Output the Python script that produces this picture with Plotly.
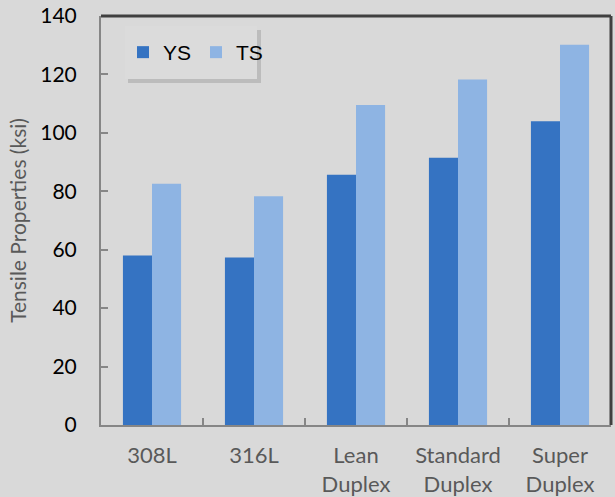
import plotly.graph_objects as go

categories = ["308L", "316L", "Lean<br>Duplex", "Standard<br>Duplex", "Super<br>Duplex"]
ys_values = [58.0, 57.3, 85.7, 91.5, 104.0]
ts_values = [82.6, 78.3, 109.5, 118.3, 130.2]
y_ticks = [0, 20, 40, 60, 80, 100, 120, 140]

BG = "#D9D9D9"
PL, PR, PT, PB = 101, 611, 16, 425  # plot area pixel bounds
W, H = 615, 497


def px_x(px):
    return (px - PL) / (PR - PL)


def px_y(py):
    return (PB - py) / (PB - PT)


fig = go.Figure()
fig.add_trace(go.Bar(name="YS", x=categories, y=ys_values,
                     marker=dict(color="#3573C2", line=dict(width=0))))
fig.add_trace(go.Bar(name="TS", x=categories, y=ts_values,
                     marker=dict(color="#8EB4E3", line=dict(width=0))))

fig.update_layout(
    width=W, height=H,
    margin=dict(l=PL, r=W - PR, t=PT, b=H - PB, autoexpand=False),
    paper_bgcolor=BG, plot_bgcolor=BG,
    barmode="group", bargap=0.43, bargroupgap=0,
    font=dict(family="Lato", size=20, color="#595959"),
    showlegend=True,
    legend=dict(orientation="h", x=px_x(123), y=px_y(32), xanchor="left", yanchor="top",
                bgcolor="rgba(0,0,0,0)", borderwidth=0,
                font=dict(family="Liberation Sans", size=21, color="#000000"),
                itemwidth=30, tracegroupgap=0),
    shapes=[
        # legend shadow
        dict(type="rect", xref="paper", yref="paper", x0=px_x(128), x1=px_x(261),
             y0=px_y(83), y1=px_y(30), fillcolor="#B4B4B4", line=dict(width=0),
             opacity=0.8, layer="above"),
        # legend box
        dict(type="rect", xref="paper", yref="paper", x0=px_x(125), x1=px_x(257),
             y0=px_y(79), y1=px_y(26), fillcolor="#DBDBDB", line=dict(width=0),
             layer="above"),
        dict(type="line", xref="paper", yref="paper", x0=0, x1=1, y0=1, y1=1,
             line=dict(color="#404040", width=3), layer="above"),
        dict(type="line", xref="paper", yref="paper", x0=1, x1=1, y0=0, y1=1,
             line=dict(color="#404040", width=3), layer="above"),
    ],
)
fig.update_xaxes(
    automargin=False,
    showline=True, linecolor="#868686", linewidth=2, mirror=False,
    ticks="inside", tickson="boundaries", ticklen=7, tickcolor="#868686", tickwidth=2,
    tickfont=dict(family="Lato", size=22, color="#595959"),
    ticklabelstandoff=10, showgrid=False, zeroline=False,
)
fig.update_yaxes(
    automargin=False,
    range=[0, 140], tickvals=y_ticks, showline=True, linecolor="#868686", linewidth=2,
    ticks="inside", ticklen=7, tickcolor="#868686", tickwidth=2,
    tickfont=dict(family="Lato", size=21, color="#000000"),
    ticklabelstandoff=18, showgrid=False, zeroline=False,
    title=dict(text="Tensile Properties (ksi)", font=dict(family="Lato", size=21, color="#595959"),
               standoff=8),
)
fig.write_html("out.html", config={"displayModeBar": False},
               post_script="document.body.style.margin='0';document.body.style.background='#D9D9D9';")
